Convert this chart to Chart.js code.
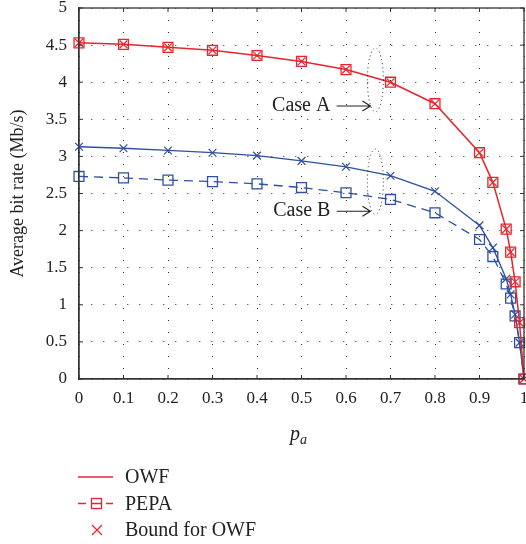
<!DOCTYPE html>
<html>
<head>
<meta charset="utf-8">
<script src="https://cdn.jsdelivr.net/npm/chart.js@4.4.1/dist/chart.umd.min.js"></script>
<style>
  html, body { margin: 0; padding: 0; background: #fff; }
  canvas { display: block; }
</style>
</head>
<body>
<canvas id="grafico" width="526" height="544"></canvas>
<script>
// p_a values
const pa = [0, 0.1, 0.2, 0.3, 0.4, 0.5, 0.6, 0.7, 0.8, 0.9, 0.93, 0.96, 0.97, 0.98, 0.99, 1];

// Case A (red)
const owfA   = [4.53, 4.51, 4.47, 4.43, 4.36, 4.28, 4.17, 4.00, 3.71, 3.05, 2.65, 2.02, 1.71, 1.31, 0.76, 0];
const pepaA  = [4.53, 4.51, 4.47, 4.43, 4.36, 4.28, 4.17, 4.00, 3.71, 3.05, 2.65, 2.02, 1.71, 1.31, 0.76, 0];
const boundA = [4.53, 4.51, 4.47, 4.43, 4.36, 4.28, 4.17, 4.00, 3.71, 3.05, 2.65, 2.02, 1.71, 1.31, 0.76, 0];

// Case B (blue)
const owfB   = [3.13, 3.11, 3.08, 3.05, 3.01, 2.94, 2.86, 2.74, 2.53, 2.07, 1.77, 1.35, 1.14, 0.87, 0.49, 0];
const pepaB  = [2.73, 2.71, 2.68, 2.66, 2.63, 2.58, 2.51, 2.42, 2.24, 1.88, 1.65, 1.28, 1.09, 0.85, 0.49, 0];
const boundB = [3.13, 3.11, 3.08, 3.05, 3.01, 2.94, 2.86, 2.74, 2.53, 2.07, 1.77, 1.35, 1.14, 0.87, 0.49, 0];

const legendLabels = ['OWF', 'PEPA', 'Bound for OWF'];
const yTitle = 'Average bit rate (Mb/s)';

const RED = '#e8252c';
const BLUE = '#2f4f9f';
const SERIF = '"Liberation Serif", "DejaVu Serif", serif';

function pts(ys) {
    return pa.map((x, i) => ({ x: x, y: ys[i] }));
}

function rotulo(v) {
    return String(Math.round(v * 100) / 100);
}

// annotations in data units
const casos = [
    { texto: 'Case A', tx: 0.565, ty: 3.68, ax0: 0.579, ax1: 0.655, ay: 3.68, ex: 0.666, ey: 4.03, rx: 0.018, ry: 0.43 },
    { texto: 'Case B', tx: 0.565, ty: 2.27, ax0: 0.579, ax1: 0.655, ay: 2.26, ex: 0.666, ey: 2.66, rx: 0.018, ry: 0.44 }
];

const extras = {
    id: 'extras',
    afterDraw(chart) {
        const c = chart.ctx;
        const a = chart.chartArea;
        const sx = chart.scales.x, sy = chart.scales.y;
        c.save();

        // frame
        c.strokeStyle = '#333';
        c.lineWidth = 1.3;
        c.strokeRect(a.left, a.top, a.right - a.left, a.bottom - a.top);

        // inward ticks
        c.lineWidth = 1;
        c.beginPath();
        sx.ticks.forEach(t => {
            const x = sx.getPixelForValue(t.value);
            c.moveTo(x, a.bottom); c.lineTo(x, a.bottom - 4);
            c.moveTo(x, a.top); c.lineTo(x, a.top + 4);
        });
        sy.ticks.forEach(t => {
            const y = sy.getPixelForValue(t.value);
            c.moveTo(a.left, y); c.lineTo(a.left + 4, y);
            c.moveTo(a.right, y); c.lineTo(a.right - 4, y);
        });
        c.stroke();

        // case labels, arrows, dotted ellipses
        c.fillStyle = '#222';
        c.strokeStyle = '#222';
        c.font = '20px ' + SERIF;
        c.textAlign = 'right';
        c.textBaseline = 'middle';
        casos.forEach(k => {
            c.fillText(k.texto, sx.getPixelForValue(k.tx), sy.getPixelForValue(k.ty));
            const x0 = sx.getPixelForValue(k.ax0), x1 = sx.getPixelForValue(k.ax1);
            const y = sy.getPixelForValue(k.ay);
            c.lineWidth = 1.1;
            c.setLineDash([]);
            c.beginPath();
            c.moveTo(x0, y); c.lineTo(x1, y);
            c.moveTo(x1 - 8, y - 5); c.lineTo(x1, y); c.lineTo(x1 - 8, y + 5);
            c.stroke();
            const cx = sx.getPixelForValue(k.ex), cy = sy.getPixelForValue(k.ey);
            const rx = sx.getPixelForValue(k.ex + k.rx) - cx;
            const ry = cy - sy.getPixelForValue(k.ey + k.ry);
            c.lineWidth = 1;
            c.setLineDash([1, 3]);
            c.beginPath();
            c.ellipse(cx, cy, rx, ry, 0, 0, Math.PI * 2);
            c.stroke();
        });
        c.setLineDash([]);

        // x axis title p_a
        c.textAlign = 'left';
        c.textBaseline = 'alphabetic';
        c.font = 'italic 20px ' + SERIF;
        c.fillText('p', 290, 440);
        c.font = 'italic 14px ' + SERIF;
        c.fillText('a', 300, 444);

        // legend
        c.font = '20px ' + SERIF;
        c.textBaseline = 'middle';
        c.strokeStyle = RED;
        c.lineWidth = 1.5;
        const ly = [477, 503.5, 530];
        c.beginPath();
        c.moveTo(78, ly[0]); c.lineTo(113, ly[0]);
        c.moveTo(78, ly[1]); c.lineTo(86, ly[1]);
        c.moveTo(106, ly[1]); c.lineTo(113, ly[1]);
        c.stroke();
        c.lineWidth = 1.3;
        c.strokeRect(91.5, ly[1] - 5, 10, 10);
        c.beginPath();
        c.moveTo(91.5, ly[1]); c.lineTo(101.5, ly[1]);
        c.moveTo(92, ly[2] - 5); c.lineTo(102, ly[2] + 5);
        c.moveTo(102, ly[2] - 5); c.lineTo(92, ly[2] + 5);
        c.stroke();
        c.fillStyle = '#222';
        legendLabels.forEach((t, i) => c.fillText(t, 125, ly[i] + 1));

        c.restore();
    }
};

const ctx = document.getElementById('grafico').getContext('2d');
const grafico = new Chart(ctx, {
    type: 'line',
    data: {
        datasets: [
            { label: 'OWF A', data: pts(owfA), borderColor: RED, borderWidth: 1.5, pointRadius: 0, tension: 0 },
            { label: 'PEPA A', data: pts(pepaA), showLine: false, borderColor: RED, backgroundColor: 'transparent',
              pointStyle: 'rect', pointRadius: 7, pointBorderWidth: 1.3 },
            { label: 'Bound A', data: pts(boundA), showLine: false, borderColor: RED,
              pointStyle: 'crossRot', pointRadius: 5.5, pointBorderWidth: 1.2 },
            { label: 'OWF B', data: pts(owfB), borderColor: BLUE, borderWidth: 1.3, pointRadius: 0, tension: 0 },
            { label: 'PEPA B', data: pts(pepaB), borderColor: BLUE, borderWidth: 1.3, borderDash: [9, 6],
              backgroundColor: 'transparent', pointStyle: 'rect', pointRadius: 7, pointBorderWidth: 1.3, tension: 0 },
            { label: 'Bound B', data: pts(boundB), showLine: false, borderColor: BLUE,
              pointStyle: 'crossRot', pointRadius: 5.5, pointBorderWidth: 1.2 }
        ]
    },
    options: {
        responsive: false,
        animation: false,
        clip: false,
        layout: { autoPadding: false, padding: { top: 8, left: 0, right: 2, bottom: 0 } },
        plugins: {
            legend: { display: false },
            tooltip: { enabled: false }
        },
        scales: {
            x: {
                type: 'linear',
                min: 0,
                max: 1,
                ticks: { stepSize: 0.1, color: '#222', padding: 9, font: { family: SERIF, size: 17 }, callback: rotulo },
                grid: { color: 'rgba(0,0,0,0.85)', lineWidth: 1, drawTicks: false },
                border: { color: '#333', width: 1.3, dash: [1, 11] },
                afterFit: s => { s.height = 165; s.paddingLeft = 0; s.paddingRight = 0; }
            },
            y: {
                min: 0,
                max: 5,
                ticks: { stepSize: 0.5, color: '#222', padding: 12, font: { family: SERIF, size: 17, lineHeight: 1 }, callback: rotulo },
                grid: { color: 'rgba(0,0,0,0.85)', lineWidth: 1, drawTicks: false },
                border: { color: '#333', width: 1.3, dash: [1, 11] },
                title: { display: true, text: yTitle, color: '#222', padding: { top: 7, bottom: 0 },
                         font: { family: SERIF, size: 18 } },
                afterFit: s => { s.width = 79; s.paddingTop = 0; s.paddingBottom = 0; }
            }
        }
    },
    plugins: [extras]
});
</script>
</body>
</html>
